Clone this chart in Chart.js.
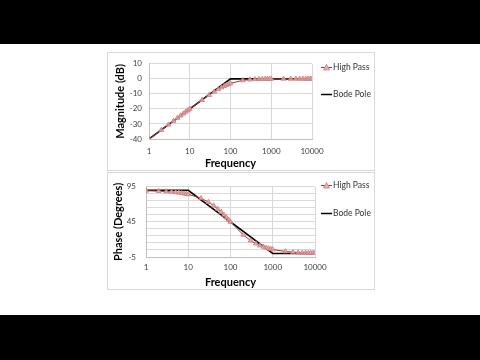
<!DOCTYPE html>
<html>
<head>
<meta charset="utf-8">
<script src="https://cdn.jsdelivr.net/npm/chart.js@4/dist/chart.umd.min.js"></script>
<style>
body{margin:0;width:480px;height:360px;background:#000;position:relative;overflow:hidden;font-family:Lato,"Open Sans",sans-serif;}
#page{position:absolute;left:0;top:44px;width:480px;height:271px;background:#fff;}
.box{position:absolute;left:107px;width:268px;border:1px solid #d9d9d9;box-sizing:border-box;}
canvas{position:absolute;left:107px;}
.leg{position:absolute;display:flex;align-items:center;font-size:8.5px;color:#333;line-height:10px;}
.leg svg{margin-right:1px;}
</style>
</head>
<body>
<div id="page"></div>
<div class="box" style="top:52px;height:119px"></div>
<div class="box" style="top:172px;height:118px"></div>
<canvas id="mag" width="267" height="118" style="top:52px"></canvas>
<canvas id="phase" width="267" height="117" style="top:172px"></canvas>

<div class="leg" style="left:321px;top:62px"><svg width="11" height="9"><line x1="0" y1="4.5" x2="11" y2="4.5" stroke="#9b3434"/><polygon points="5.5,1.5 8.5,7 2.5,7" fill="#ebb0b0" stroke="#c97a7a" stroke-width="0.8"/></svg>High Pass</div>
<div class="leg" style="left:321px;top:89px"><svg width="11" height="9"><line x1="0" y1="4.5" x2="11" y2="4.5" stroke="#000" stroke-width="1.5"/></svg>Bode Pole</div>
<div class="leg" style="left:321px;top:180px"><svg width="11" height="9"><line x1="0" y1="4.5" x2="11" y2="4.5" stroke="#9b3434"/><polygon points="5.5,1.5 8.5,7 2.5,7" fill="#ebb0b0" stroke="#c97a7a" stroke-width="0.8"/></svg>High Pass</div>
<div class="leg" style="left:321px;top:208px"><svg width="11" height="9"><line x1="0" y1="4.5" x2="11" y2="4.5" stroke="#000" stroke-width="1.5"/></svg>Bode Pole</div>

<script>
// frequencies of the measured high pass points
const freq = [1,2,3,4,5,6,7,8,9,10,20,30,40,50,60,70,80,90,100,200,300,400,500,600,700,800,900,1000,2000,3000,4000,5000,6000,7000,8000,9000,10000];
// magnitude (dB)
const magHP = [-40.0,-34.0,-30.5,-28.0,-26.0,-24.4,-23.1,-21.9,-20.9,-20.0,-14.1,-10.8,-8.6,-7.0,-5.8,-4.8,-4.1,-3.5,-3.0,-1.0,-0.5,-0.3,-0.2,-0.1,-0.1,-0.1,-0.1,0,0,0,0,0,0,0,0,0,0];
// phase (degrees)
const phaseHP = [89.4,88.9,88.3,87.7,87.1,86.6,86.0,85.4,84.9,84.3,78.7,73.3,68.2,63.4,59.0,55.0,51.3,48.0,45.0,26.6,18.4,14.0,11.3,9.5,8.1,7.1,6.3,5.7,2.9,1.9,1.4,1.1,1.0,0.8,0.7,0.6,0.6];

// bode asymptotes
const bodeMagFreq = [1,100,10000];
const bodeMag = [-40,0,0];
const bodePhaseFreq = [1,10,1000,10000];
const bodePhase = [90,90,0,0];

// axis ticks
const xTicks = [1,10,100,1000,10000];
const magTicks = [-40,-30,-20,-10,0,10];
const magLabels = [-40,-30,-20,-10,0,10];
const phaseTicks = [-5,5,15,25,35,45,55,65,75,85,95];
const phaseLabels = [-5,45,95];

function pts(xs, ys){
	let arr = [];
	for(let i=0; i<xs.length; i++){
		arr.push({x: xs[i], y: ys[i]});
	}
	return arr;
}

function bodeChart(id, hpY, bX, bY, yTicks, yLabels, yTitle, s){
	const ctx = document.getElementById(id);
	return new Chart(ctx, {
		type: 'scatter',
		data: {
			datasets: [{
				label: 'High Pass',
				data: pts(freq, hpY),
				showLine: true,
				borderColor: '#9b3434',
				borderWidth: 1,
				pointStyle: 'triangle',
				pointRadius: 2.8,
				pointBackgroundColor: 'rgba(235,170,170,0.85)',
				pointBorderColor: '#c97a7a',
				pointBorderWidth: 0.8
			},{
				label: 'Bode Pole',
				data: pts(bX, bY),
				showLine: true,
				borderColor: '#000',
				borderWidth: 1.6,
				pointRadius: 0
			}]
		},
		options: {
			responsive: false,
			animation: false,
			layout: {padding: {left: 0, top: s.top, right: s.right, bottom: 0}},
			plugins: {legend: {display: false}, tooltip: {enabled: false}},
			scales: {
				x: {
					type: 'logarithmic', min: 1, max: 10000,
					afterBuildTicks: sc => { sc.ticks = xTicks.map(v => ({value: v})); },
					afterFit: sc => { sc.height = s.xh; },
					ticks: {callback: v => String(v), font: {family: 'Lato', size: 8}, color: '#404040', padding: s.xpad, maxRotation: 0, autoSkip: false},
					grid: {color: '#d9d9d9', drawTicks: false},
					border: {color: '#bfbfbf'},
					title: {display: true, text: 'Frequency', font: {family: 'Lato', size: 11, weight: 'bold'}, color: '#000', padding: 0}
				},
				y: {
					min: yTicks[0], max: yTicks[yTicks.length-1],
					afterBuildTicks: sc => { sc.ticks = yTicks.map(v => ({value: v})); },
					afterFit: sc => { sc.width = s.yw; },
					ticks: {callback: v => yLabels.includes(v) ? String(v) : '', font: {family: 'Lato', size: 8}, color: '#404040', padding: s.ypad, autoSkip: false},
					grid: {color: '#d9d9d9', drawTicks: false},
					border: {color: '#bfbfbf'},
					title: {display: true, text: yTitle, font: {family: 'Lato', size: 11, weight: 'bold'}, color: '#000', padding: {top: s.tpad, bottom: 0}}
				}
			}
		}
	});
}

bodeChart('mag', magHP, bodeMagFreq, bodeMag, magTicks, magLabels, 'Magnitude (dB)',
	{top: 8, right: 62, xh: 31, yw: 42, xpad: 8, ypad: 7, tpad: 7});
bodeChart('phase', phaseHP, bodePhaseFreq, bodePhase, phaseTicks, phaseLabels, 'Phase (Degrees)',
	{top: 9, right: 59, xh: 32, yw: 39, xpad: 6, ypad: 10, tpad: 5});
</script>
</body>
</html>
